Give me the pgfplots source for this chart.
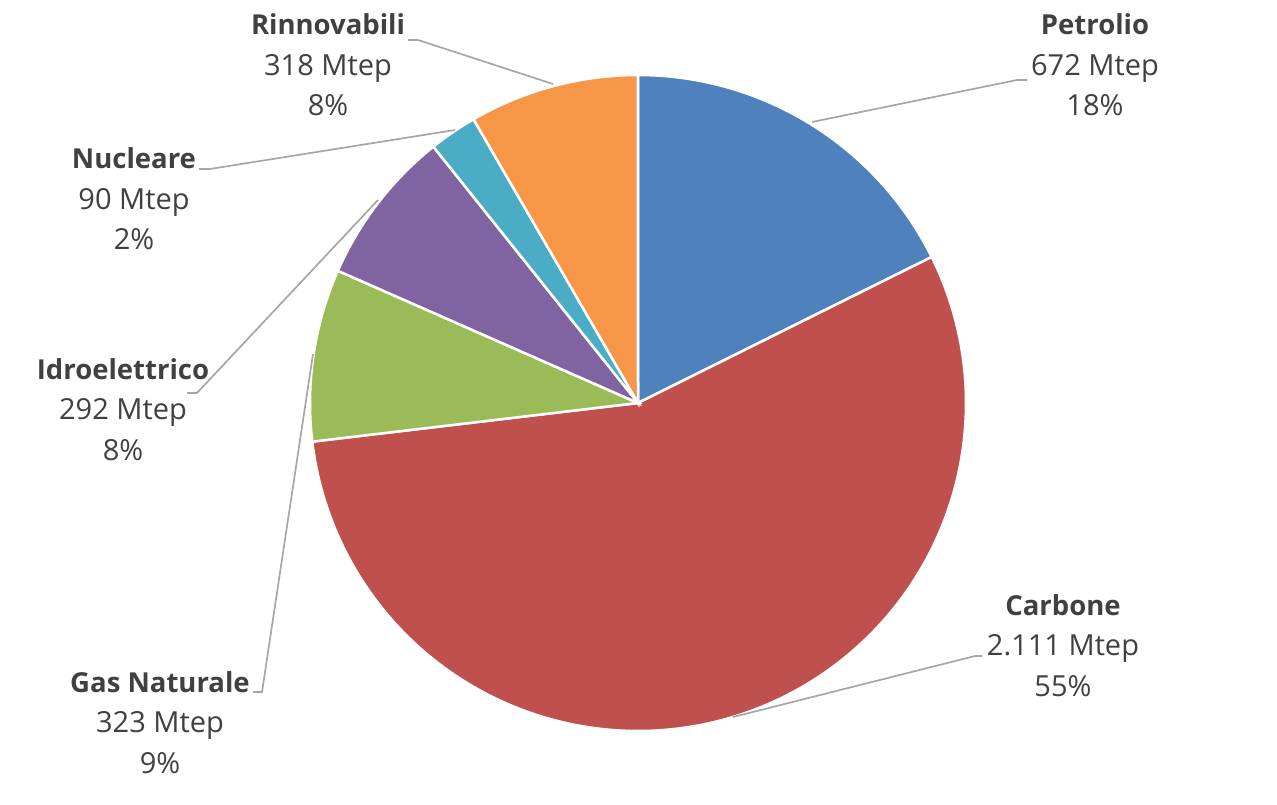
\documentclass[border=0pt]{standalone}
\usepackage{pgfplots}
\pgfplotsset{compat=1.18}
\usepackage{fontspec}
\setmainfont{Open Sans}
\definecolor{cPet}{HTML}{4F81BD}
\definecolor{cCar}{HTML}{C0504D}
\definecolor{cGas}{HTML}{9BBB59}
\definecolor{cIdr}{HTML}{8064A2}
\definecolor{cNuc}{HTML}{4BACC6}
\definecolor{cRin}{HTML}{F79646}
\definecolor{txt}{HTML}{404040}
\definecolor{lead}{HTML}{A6A6A6}
% data (Mtep)
\def\vPet{672}\def\vCar{2111}\def\vGas{323}\def\vIdr{292}\def\vNuc{90}\def\vRin{318}
\pgfmathsetmacro\tot{\vPet+\vCar+\vGas+\vIdr+\vNuc+\vRin}
\pgfmathsetmacro\aA{90}
\pgfmathsetmacro\aB{\aA-360*(\vPet/\tot)}
\pgfmathsetmacro\aC{\aB-360*(\vCar/\tot)}
\pgfmathsetmacro\aD{\aC-360*(\vGas/\tot)}
\pgfmathsetmacro\aE{\aD-360*(\vIdr/\tot)}
\pgfmathsetmacro\aF{\aE-360*(\vNuc/\tot)}
\pgfmathsetmacro\aG{\aF-360*(\vRin/\tot)}
\newcommand{\lab}[5]{%
  \node[anchor=base,text=txt,font=\fontsize{27.5pt}{32pt}\selectfont\bfseries] at (axis cs:#1,#2) {#3};
  \node[anchor=base,text=txt,font=\fontsize{29pt}{34pt}\selectfont] at (axis cs:#1,#2+40.5) {#4};
  \node[anchor=base,text=txt,font=\fontsize{29pt}{34pt}\selectfont] at (axis cs:#1,#2+81) {#5};
}
\begin{document}
\begin{tikzpicture}
\begin{axis}[name=ax, width=1277pt, height=805pt, scale only axis, hide axis,
  xmin=0, xmax=1277, ymin=0, ymax=805, y dir=reverse, clip=false]
\addplot[fill=cPet, draw=white, line width=2.5pt, domain=\aB:\aA, samples=80, variable=\t] ({638+328*cos(\t)},{403-328*sin(\t)}) -- (axis cs:638,403) -- cycle;
\addplot[fill=cCar, draw=white, line width=2.5pt, domain=\aC:\aB, samples=200, variable=\t] ({638+328*cos(\t)},{403-328*sin(\t)}) -- (axis cs:638,403) -- cycle;
\addplot[fill=cGas, draw=white, line width=2.5pt, domain=\aD:\aC, samples=60, variable=\t] ({638+328*cos(\t)},{403-328*sin(\t)}) -- (axis cs:638,403) -- cycle;
\addplot[fill=cIdr, draw=white, line width=2.5pt, domain=\aE:\aD, samples=60, variable=\t] ({638+328*cos(\t)},{403-328*sin(\t)}) -- (axis cs:638,403) -- cycle;
\addplot[fill=cNuc, draw=white, line width=2.5pt, domain=\aF:\aE, samples=30, variable=\t] ({638+328*cos(\t)},{403-328*sin(\t)}) -- (axis cs:638,403) -- cycle;
\addplot[fill=cRin, draw=white, line width=2.5pt, domain=\aG:\aF, samples=60, variable=\t] ({638+328*cos(\t)},{403-328*sin(\t)}) -- (axis cs:638,403) -- cycle;
% leader lines
\addplot[lead, line width=1.7pt, no marks] coordinates {(408,40) (418,40) (553,84)};
\addplot[lead, line width=1.7pt, no marks] coordinates {(1027,80) (1017,80) (812,122)};
\addplot[lead, line width=1.7pt, no marks] coordinates {(199,169) (210,169) (455,130)};
\addplot[lead, line width=1.7pt, no marks] coordinates {(187,393) (197,393) (378,200)};
\addplot[lead, line width=1.7pt, no marks] coordinates {(253,692) (262,692) (313,354)};
\addplot[lead, line width=1.7pt, no marks] coordinates {(982,656) (975,656) (733,717)};
% labels
\lab{328}{35}{Rinnovabili}{318 Mtep}{8\%}
\lab{1095}{35}{Petrolio}{672 Mtep}{18\%}
\lab{134}{169}{Nucleare}{90 Mtep}{2\%}
\lab{123}{379}{Idroelettrico}{292 Mtep}{8\%}
\lab{160}{692}{Gas Naturale}{323 Mtep}{9\%}
\lab{1063}{615}{Carbone}{2.111 Mtep}{55\%}
\end{axis}
\path (ax.south west) rectangle (ax.north east);
\end{tikzpicture}
\end{document}
